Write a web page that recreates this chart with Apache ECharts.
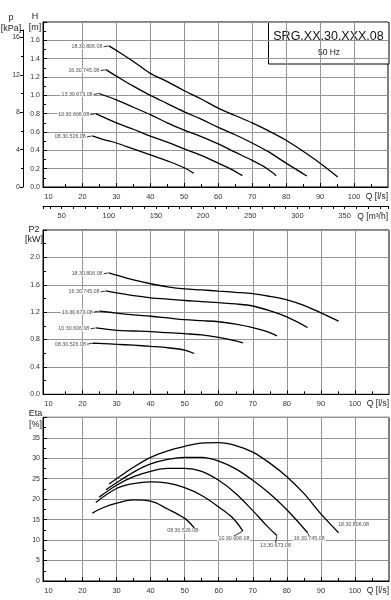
<!DOCTYPE html>
<html><head><meta charset="utf-8">
<script src="https://cdn.jsdelivr.net/npm/echarts@6/dist/echarts.min.js"></script>
<style>html,body{margin:0;padding:0;background:#fff}#c{width:391px;height:600px}</style>
</head><body><div id="c"></div>
<script>
// ---- data ----
const MODELS = ['18.30.806.08', '16.30.745.08', '13.30.673.08', '10.30.606.08', '08.30.526.08'];

const Q_806   = [27.8, 30, 35, 40, 45, 50, 55, 60, 65, 70, 75, 80, 85, 90, 95.2];
const H_806   = [1.54, 1.49, 1.37, 1.24, 1.15, 1.05, 0.96, 0.86, 0.78, 0.70, 0.61, 0.51, 0.39, 0.26, 0.11];
const P2_806  = [1.775, 1.74, 1.67, 1.615, 1.57, 1.54, 1.525, 1.507, 1.49, 1.47, 1.43, 1.38, 1.30, 1.19, 1.07];
const ETA_806 = [23.7, 25.0, 27.8, 30.2, 31.8, 32.9, 33.7, 33.8, 33.1, 31.5, 28.8, 25.5, 21.4, 16.4, 11.8];

const Q_745   = [26.9, 30, 35, 40, 45, 50, 55, 60, 65, 70, 75, 80, 86.1];
const H_745   = [1.28, 1.21, 1.10, 1.00, 0.91, 0.82, 0.74, 0.65, 0.57, 0.48, 0.38, 0.26, 0.12];
const P2_745  = [1.51, 1.48, 1.44, 1.41, 1.39, 1.37, 1.355, 1.338, 1.32, 1.29, 1.22, 1.13, 0.975];
const ETA_745 = [22.3, 24.0, 26.6, 28.6, 29.7, 30.2, 30.2, 29.3, 27.4, 24.6, 21.3, 17.4, 11.8];

const Q_673   = [24.9, 30, 35, 40, 45, 50, 55, 60, 65, 70, 74, 77.1];
const H_673   = [1.02, 0.95, 0.87, 0.79, 0.70, 0.62, 0.55, 0.47, 0.38, 0.29, 0.21, 0.124];
const P2_673  = [1.216, 1.187, 1.16, 1.14, 1.115, 1.09, 1.075, 1.06, 1.025, 0.975, 0.92, 0.853];
const ETA_673 = [20.5, 23.4, 25.5, 26.8, 27.5, 27.5, 26.8, 24.6, 21.4, 17.2, 13.6, 11.1];

const Q_606   = [23.9, 30, 35, 40, 45, 50, 55, 60, 64, 67.1];
const H_606   = [0.80, 0.70, 0.63, 0.555, 0.49, 0.415, 0.345, 0.26, 0.19, 0.124];
const P2_606  = [0.97, 0.935, 0.925, 0.915, 0.90, 0.885, 0.867, 0.83, 0.79, 0.75];
const ETA_606 = [19.2, 22.6, 23.8, 24.2, 23.9, 22.8, 20.9, 18.1, 15.5, 12.2];

const Q_526   = [22.9, 26, 30, 35, 40, 45, 50, 52.8];
const H_526   = [0.557, 0.52, 0.48, 0.415, 0.35, 0.285, 0.21, 0.15];
const P2_526  = [0.746, 0.74, 0.73, 0.717, 0.70, 0.68, 0.645, 0.596];
const ETA_526 = [16.6, 17.9, 19.0, 19.8, 19.5, 17.6, 15.3, 13.0];

const Q_LS_LABELS  = [10, 20, 30, 40, 50, 60, 70, 80, 90, 100];
const Q_LS_GRID    = [20, 30, 40, 50, 60, 70, 80, 90, 100];
const Q_M3H_LABELS = [50, 100, 150, 200, 250, 300, 350];
const P_KPA_LABELS = [0, 4, 8, 12, 16];
const TITLE = 'SRG.XX.30.XXX.08';
const SUBTITLE = '50 Hz';

// ---- chart ----
const Q_MIN = 8.4, Q_MAX = 110, M3H_PER_LS = 3.6, KPA_PER_M = 9.81, H_MAX = 1.8;
const TOP_H = 165, P_AXIS_H = 157;           // plot height and visible p-axis height (px)
const FONT = "'Liberation Sans', Arial, sans-serif";
const zip = (a, b) => a.map((v, i) => [v, b[i]]);

const CURVES = [
  {q: Q_806, h: H_806, p: P2_806, e: ETA_806},
  {q: Q_745, h: H_745, p: P2_745, e: ETA_745},
  {q: Q_673, h: H_673, p: P2_673, e: ETA_673},
  {q: Q_606, h: H_606, p: P2_606, e: ETA_606},
  {q: Q_526, h: H_526, p: P2_526, e: ETA_526}
];
// label offsets for the efficiency chart (style only)
const ETA_LABEL_OFF = [[15, -8], [1.5, 6], [-1.5, 10], [-9, 7.5], [-11.5, 3]];

function xAxisLs(grid) {
  return {
    type: 'value', gridIndex: grid, min: Q_MIN, max: Q_MAX, splitNumber: 10,
    axisLine: {lineStyle: {color: '#000', width: 1}},
    axisTick: {show: true, inside: true, length: 4, customValues: Q_LS_GRID, lineStyle: {color: '#000'}},
    minorTick: {show: true, splitNumber: 2, length: 3, lineStyle: {color: '#000'}},
    splitLine: {show: true, lineStyle: {color: '#959595', width: 1}},
    axisLabel: {fontSize: 7.5, color: '#333', margin: 6, fontFamily: FONT, customValues: Q_LS_LABELS,
      formatter: v => Q_LS_LABELS.includes(Math.round(v * 1000) / 1000) ? String(v) : ''},
    name: '\nQ [l/s]', nameLocation: 'end', nameGap: 0,
    nameTextStyle: {fontSize: 8.5, color: '#222', align: 'right', verticalAlign: 'middle', lineHeight: 19, fontFamily: FONT}
  };
}
function yAxisStd(grid, max, interval, name, gap, padR, lh) {
  return {
    type: 'value', gridIndex: grid, min: 0, max: max, interval: interval,
    axisLine: {show: true, lineStyle: {color: '#000', width: 1}},
    axisTick: {show: true, inside: true, length: 4, lineStyle: {color: '#000'}},
    minorTick: {show: true, splitNumber: 2, length: 3, lineStyle: {color: '#000'}},
    splitLine: {show: true, lineStyle: {color: '#959595', width: 1}},
    axisLabel: {fontSize: 7, color: '#333', margin: 3, fontFamily: FONT,
      formatter: v => v >= max - 1e-6 ? '' : (interval < 1 ? v.toFixed(1) : String(Math.round(v)))},
    name: name, nameLocation: 'end', nameGap: gap,
    nameTextStyle: {fontSize: 9, color: '#222', align: 'center', verticalAlign: 'middle', lineHeight: lh, padding: [0, padR, 0, 0], fontFamily: FONT}
  };
}

const series = [];
const charts = [
  {key: 'h', xi: 0, yi: 0},
  {key: 'p', xi: 2, yi: 1},
  {key: 'e', xi: 3, yi: 2}
];
charts.forEach(c => {
  CURVES.forEach((cv, k) => {
    const pts = zip(cv.q, cv[c.key]);
    series.push({
      type: 'line', xAxisIndex: c.xi, yAxisIndex: c.yi, data: pts,
      smooth: 0.35, showSymbol: false, silent: true, z: 2,
      lineStyle: {color: '#000', width: 1.3}
    });
    const isEta = c.key === 'e';
    const anchor = isEta ? pts[pts.length - 1] : pts[0];
    const off = isEta ? ETA_LABEL_OFF[k] : [-4, 1];
    series.push({
      type: 'scatter', xAxisIndex: c.xi, yAxisIndex: c.yi, data: [anchor],
      symbol: 'circle', symbolSize: 1, itemStyle: {color: 'rgba(0,0,0,0)'}, silent: true, z: 3,
      label: {show: true, formatter: MODELS[k], position: isEta ? 'inside' : 'left', distance: 1,
        fontSize: 5.3, color: '#222', fontFamily: FONT, backgroundColor: '#fff', padding: [0, 1]},
      labelLayout: {dx: off[0], dy: off[1]},
      labelLine: {show: !(isEta && k === 0), lineStyle: {color: '#000', width: 0.8}}
    });
  });
});

const option = {
  animation: false,
  backgroundColor: '#fff',
  textStyle: {fontFamily: FONT},
  grid: [
    {left: 43, top: 22, width: 346, height: TOP_H, show: true, borderColor: '#000', borderWidth: 1, backgroundColor: 'transparent'},
    {left: 43, top: 230, width: 346, height: 164.3, show: true, borderColor: '#000', borderWidth: 1, backgroundColor: 'transparent'},
    {left: 43, top: 417.3, width: 346, height: 164.4, show: true, borderColor: '#000', borderWidth: 1, backgroundColor: 'transparent'},
    {left: 22, top: 22 + TOP_H - P_AXIS_H, width: 1, height: P_AXIS_H, show: false}
  ],
  xAxis: [
    xAxisLs(0),
    {
      type: 'value', gridIndex: 0, position: 'bottom', offset: 19,
      min: Q_MIN * M3H_PER_LS, max: Q_MAX * M3H_PER_LS, splitNumber: 7,
      axisLine: {onZero: false, lineStyle: {color: '#000', width: 1}},
      axisTick: {show: true, inside: false, length: 3, lineStyle: {color: '#000'}},
      minorTick: {show: true, splitNumber: 4, length: 3, lineStyle: {color: '#000'}},
      splitLine: {show: false},
      axisLabel: {fontSize: 7.5, color: '#333', margin: 6, fontFamily: FONT,
        formatter: v => Q_M3H_LABELS.includes(Math.round(v * 1000) / 1000) ? String(v) : ''},
      name: '\nQ [m³/h]', nameLocation: 'end', nameGap: 0,
      nameTextStyle: {fontSize: 8.5, color: '#222', align: 'right', verticalAlign: 'middle', lineHeight: 21, fontFamily: FONT}
    },
    xAxisLs(1),
    xAxisLs(2),
    {type: 'value', gridIndex: 3, show: false}
  ],
  yAxis: [
    yAxisStd(0, H_MAX, 0.2, 'H\n[m]', 0, 16, 11),
    yAxisStd(1, 2.4, 0.4, 'P2\n[kW]', -4.5, 18, 10),
    yAxisStd(2, 40, 5, 'Eta\n[%]', -2, 15, 11),
    {
      type: 'value', gridIndex: 3, position: 'left',
      min: 0, max: H_MAX * KPA_PER_M * P_AXIS_H / TOP_H, interval: 4,
      axisLine: {show: true, onZero: false, lineStyle: {color: '#000', width: 1}},
      axisTick: {show: true, inside: false, length: 3, lineStyle: {color: '#000'}},
      minorTick: {show: true, splitNumber: 2, length: 2, lineStyle: {color: '#000'}},
      splitLine: {show: false},
      axisLabel: {fontSize: 7, color: '#333', margin: 3, fontFamily: FONT,
        formatter: v => P_KPA_LABELS.includes(Math.round(v * 1000) / 1000) ? String(v) : ''},
      name: 'p\n[kPa]', nameLocation: 'end', nameGap: -(TOP_H - P_AXIS_H),
      nameTextStyle: {fontSize: 9, color: '#222', align: 'center', verticalAlign: 'middle', lineHeight: 11, padding: [0, 24, 0, 0], fontFamily: FONT}
    }
  ],
  graphic: [{
    type: 'group', z: 100,
    children: [
      {type: 'rect', shape: {x: 268.5, y: 22.5, width: 120.5, height: 41.5}, style: {fill: '#fff', stroke: '#000', lineWidth: 1}},
      {type: 'text', x: 328.5, y: 37, style: {text: TITLE, font: "12.5px 'Liberation Sans', Arial, sans-serif", fill: '#111', textAlign: 'center', textVerticalAlign: 'middle'}},
      {type: 'text', x: 329, y: 53, style: {text: SUBTITLE, font: "8.5px 'Liberation Sans', Arial, sans-serif", fill: '#222', textAlign: 'center', textVerticalAlign: 'middle'}}
    ]
  }],
  series: series
};

const chart = echarts.init(document.getElementById('c'), null, {renderer: 'canvas'});
chart.setOption(option);
</script>
</body></html>
